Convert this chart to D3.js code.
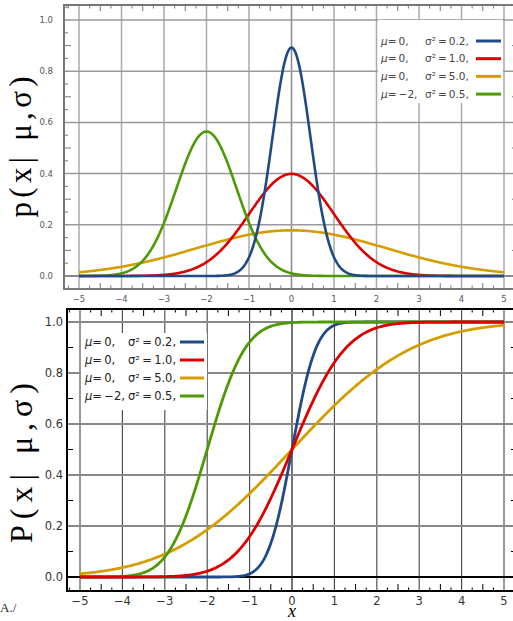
<!DOCTYPE html>
<html>
<head>
<meta charset="utf-8">
<script src="https://cdn.jsdelivr.net/npm/d3@7"></script>
<style>
  body { margin: 0; background: #fff; }
  svg { display: block; }
</style>
</head>
<body>
<svg id="chart" width="513" height="621"></svg>
<script>
// legend parameters of the four curves
const mus = [0, 0, 0, -2];
const variances = [0.2, 1.0, 5.0, 0.5];
const seriesColors = ["#204a87", "#dd0000", "#d69d00", "#4e9a06"];
const muLabels = ["=\u20090,", "=\u20090,", "=\u20090,", "=\u2009\u22122,"];
const varLabels = ["\u03c3\u00b2\u2009=\u20090.2,", "\u03c3\u00b2\u2009=\u20091.0,", "\u03c3\u00b2\u2009=\u20095.0,", "\u03c3\u00b2\u2009=\u20090.5,"];
const xTickValues = [-5, -4, -3, -2, -1, 0, 1, 2, 3, 4, 5];
const yTickValues = [0, 0.2, 0.4, 0.6, 0.8, 1.0];
const xTickLabels = ["\u22125", "\u22124", "\u22123", "\u22122", "\u22121", "0", "1", "2", "3", "4", "5"];
const yTickLabels = ["0.0", "0.2", "0.4", "0.6", "0.8", "1.0"];

const svg = d3.select("#chart");

function erf(x) {
    // Abramowitz & Stegun 7.1.26
    const s = Math.sign(x);
    x = Math.abs(x);
    const t = 1 / (1 + 0.3275911 * x);
    const y = 1 - (((((1.061405429 * t - 1.453152027) * t) + 1.421413741) * t - 0.284496736) * t + 0.254829592) * t * Math.exp(-x * x);
    return s * y;
}
const pdf = (x, m, v) => Math.exp(-(x - m) * (x - m) / (2 * v)) / Math.sqrt(2 * Math.PI * v);
const cdf = (x, m, v) => 0.5 * (1 + erf((x - m) / Math.sqrt(2 * v)));

const xs = d3.range(-5, 5.0001, 0.02);

function drawPanel(o) {
    const g = svg.append("g");
    const x = d3.scaleLinear().domain([-5, 5]).range(o.xRange);
    const y = d3.scaleLinear().domain([0, 1]).range(o.yRange);

    // grid
    xTickValues.forEach(v => {
        g.append("line")
            .attr("x1", x(v)).attr("x2", x(v))
            .attr("y1", o.frame.y0).attr("y2", o.frame.y1)
            .attr("stroke", v === 0 ? o.zeroColor : o.gridColor)
            .attr("stroke-width", o.gridWidth);
    });
    yTickValues.forEach(v => {
        g.append("line")
            .attr("x1", o.frame.x0).attr("x2", o.frame.x1)
            .attr("y1", y(v)).attr("y2", y(v))
            .attr("stroke", v === 0 ? o.zeroColor : o.hGridColor)
            .attr("stroke-width", v === 0 ? o.zeroWidth : o.hGridWidth);
    });

    // minor ticks on x (every 0.25)
    for (let i = -21; i <= 21; i++) {
        if (i % 4 === 0) continue;
        const len = i % 2 === 0 ? o.xTickLong : o.xTickShort;
        const xv = x(i / 4);
        g.append("line").attr("x1", xv).attr("x2", xv)
            .attr("y1", o.frame.y1).attr("y2", o.frame.y1 - len)
            .attr("stroke", o.frameColor).attr("stroke-width", 1);
        g.append("line").attr("x1", xv).attr("x2", xv)
            .attr("y1", o.frame.y0).attr("y2", o.frame.y0 + len)
            .attr("stroke", o.frameColor).attr("stroke-width", 1);
    }
    // minor ticks on y
    for (let i = -1; i <= 21; i++) {
        if (i % 4 === 0) continue;
        if (o.yStep === 0.1 && i % 2 !== 0) continue;
        const len = i % 2 === 0 ? o.yTickLong : o.yTickShort;
        const yv = y(i / 20);
        if (yv < o.frame.y0 || yv > o.frame.y1) continue;
        g.append("line").attr("x1", o.frame.x0).attr("x2", o.frame.x0 + len)
            .attr("y1", yv).attr("y2", yv)
            .attr("stroke", o.frameColor).attr("stroke-width", 1);
        g.append("line").attr("x1", o.frame.x1).attr("x2", o.frame.x1 - len)
            .attr("y1", yv).attr("y2", yv)
            .attr("stroke", o.frameColor).attr("stroke-width", 1);
    }

    // curves
    const line = d3.line().x(d => x(d[0])).y(d => y(d[1]));
    o.order.forEach(k => {
        const pts = xs.map(xv => [xv, o.fn(xv, mus[k], variances[k])]);
        g.append("path")
            .datum(pts)
            .attr("fill", "none")
            .attr("stroke", seriesColors[k])
            .attr("stroke-width", o.curveWidth)
            .attr("stroke-linejoin", "round")
            .attr("d", line);
    });

    // frame
    g.append("rect")
        .attr("x", o.frame.x0).attr("y", o.frame.y0)
        .attr("width", o.frame.x1 - o.frame.x0).attr("height", o.frame.y1 - o.frame.y0)
        .attr("fill", "none").attr("stroke", o.frameColor).attr("stroke-width", 2);

    // tick labels
    xTickValues.forEach((v, i) => {
        g.append("text")
            .attr("x", x(v)).attr("y", o.xLabelY)
            .attr("text-anchor", "middle")
            .attr("font-family", "DejaVu Sans, sans-serif")
            .attr("font-size", o.fontSize)
            .attr("fill", o.labelColor)
            .text(xTickLabels[i]);
    });
    yTickValues.forEach((v, i) => {
        g.append("text")
            .attr("x", o.yLabelX).attr("y", y(v) + o.fontSize * 0.36)
            .attr("text-anchor", "end")
            .attr("font-family", "DejaVu Sans, sans-serif")
            .attr("font-size", o.fontSize)
            .attr("fill", o.labelColor)
            .text(yTickLabels[i]);
    });

    // legend
    const L = o.legend;
    if (L.box) {
        g.append("rect").attr("x", L.box[0]).attr("y", L.box[1])
            .attr("width", L.box[2]).attr("height", L.box[3]).attr("fill", "#fff");
    }
    mus.forEach((m, k) => {
        const cy = L.y0 + k * L.dy;
        const t = g.append("text")
            .attr("x", L.x).attr("y", cy + L.size * 0.36)
            .attr("font-family", "DejaVu Sans, sans-serif")
            .attr("font-size", L.size)
            .attr("fill", L.color);
        t.append("tspan").attr("font-style", "italic").text("\u03bc");
        t.append("tspan").text(muLabels[k]);
        g.append("text")
            .attr("x", L.sx).attr("y", cy + L.size * 0.36)
            .attr("font-family", "DejaVu Sans, sans-serif")
            .attr("font-size", L.size)
            .attr("fill", L.color)
            .text(varLabels[k]);
        g.append("line")
            .attr("x1", L.lx[0]).attr("x2", L.lx[1])
            .attr("y1", cy).attr("y2", cy)
            .attr("stroke", seriesColors[k]).attr("stroke-width", 3);
    });

    // axis title
    svg.append("text")
        .attr("transform", `translate(${o.title.x},${o.title.y}) rotate(-90)`)
        .attr("text-anchor", "middle")
        .attr("font-family", "'Liberation Serif', 'Times New Roman', serif")
        .attr("font-size", o.title.size)
        .attr("textLength", o.title.len)
        .attr("lengthAdjust", "spacing")
        .attr("fill", "#000")
        .text(o.title.text);
}

drawPanel({
    fn: pdf,
    order: [2, 1, 3, 0],
    frame: { x0: 64, x1: 519, y0: 5, y1: 289 },
    xRange: [79, 504], yRange: [276, 20],
    gridColor: "#aaa", hGridColor: "#999", zeroColor: "#888",
    gridWidth: 1.5, hGridWidth: 1.5, zeroWidth: 2.2,
    frameColor: "#777",
    xTickLong: 6, xTickShort: 3.5, yTickLong: 7, yTickShort: 4, yStep: 0.05,
    curveWidth: 2.6,
    fontSize: 8.5, labelColor: "#555", xLabelY: 302, yLabelX: 53,
    legend: { box: [378, 20, 125, 83], x: 381, sx: 425, lx: [476, 501], y0: 41, dy: 17.7, size: 10.5, color: "#444" },
    title: { text: "p(x| \u03bc,\u03c3)", x: 31, y: 147, size: 31, len: 141 }
});

drawPanel({
    fn: cdf,
    order: [2, 0, 3, 1],
    frame: { x0: 67, x1: 517, y0: 309, y1: 591 },
    xRange: [80, 504], yRange: [577, 322],
    gridColor: "#444", hGridColor: "#888", zeroColor: "#000",
    gridWidth: 1.1, hGridWidth: 1.8, zeroWidth: 2,
    frameColor: "#000",
    xTickLong: 7, xTickShort: 3.5, yTickLong: 6, yTickShort: 6, yStep: 0.1,
    curveWidth: 2.8,
    fontSize: 11.5, labelColor: "#333", xLabelY: 605, yLabelX: 63,
    legend: { box: [81, 333, 126, 77], x: 85, sx: 128, lx: [180, 204], y0: 342, dy: 18, size: 11.5, color: "#222" },
    title: { text: "P(x| \u03bc,\u03c3)", x: 32, y: 463, size: 32, len: 160 }
});

svg.append("text")
    .attr("x", 292).attr("y", 617)
    .attr("text-anchor", "middle")
    .attr("font-family", "'Liberation Serif', serif")
    .attr("font-style", "italic")
    .attr("font-size", 18)
    .text("x");

svg.append("text")
    .attr("x", 0).attr("y", 612)
    .attr("font-family", "'Liberation Serif', serif")
    .attr("font-size", 13)
    .attr("fill", "#222")
    .text("A./");
</script>
</body>
</html>
